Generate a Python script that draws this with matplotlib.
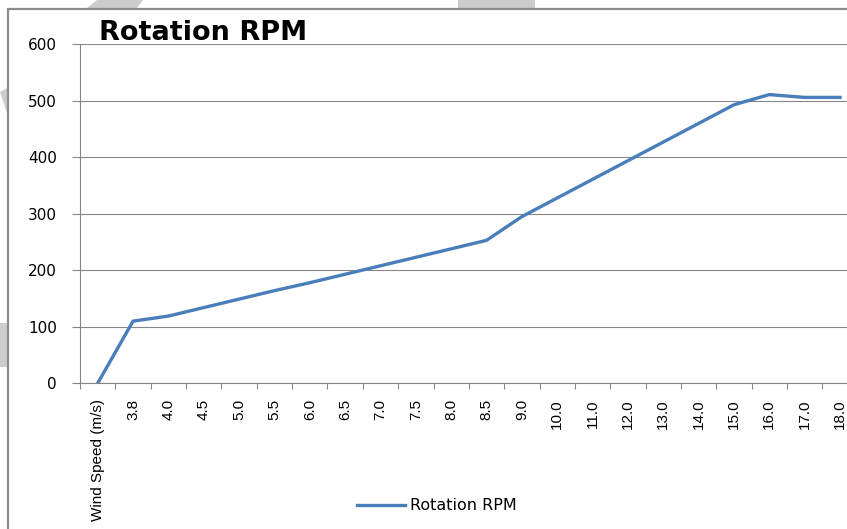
import matplotlib
matplotlib.use("Agg")
import matplotlib.pyplot as plt
import numpy as np
from matplotlib.patches import Polygon, Rectangle

# Chart data
categories = ["Wind Speed (m/s)", "3.8", "4.0", "4.5", "5.0", "5.5", "6.0", "6.5",
              "7.0", "7.5", "8.0", "8.5", "9.0", "10.0", "11.0", "12.0", "13.0",
              "14.0", "15.0", "16.0", "17.0", "18.0"]
rpm = [0, 110, 119, 134, 149, 164, 178, 193, 208, 223, 238, 253, 295,
       328, 361, 394, 427, 460, 493, 511, 506, 506]
series_name = "Rotation RPM"
y_ticks = [0, 100, 200, 300, 400, 500, 600]

W, H = 847, 529
fig = plt.figure(figsize=(W / 100, H / 100), dpi=100)
fig.patch.set_facecolor("white")

def px(x, y):
    """pixel (from top-left) -> figure fraction"""
    return (x / W, 1 - y / H)

# faint watermark bits peeking out around the chart frame
wm = "#cccccc"
for pts in [
    [(97, 0), (143, 0), (137, 8), (87, 8)],
    [(458, 0), (535, 0), (535, 8), (458, 8)],
    [(0, 92), (7, 88), (7, 113)],
    [(0, 323), (7, 323), (7, 367), (0, 367)],
]:
    fig.patches.append(Polygon([px(*p) for p in pts], closed=True, facecolor=wm,
                               edgecolor="none", transform=fig.transFigure, zorder=0))

# chart frame (runs off the right and bottom)
fig.patches.append(Rectangle(px(8, 600), 900 / W, (600 - 9) / H, fill=False,
                             edgecolor="#8c8c8c", linewidth=1.6,
                             transform=fig.transFigure, zorder=1))

# plot area, extends a bit past the right edge like the source
left, right, top, bottom = 80, 857.7, 44.3, 383.3
ax = fig.add_axes([left / W, 1 - bottom / H, (right - left) / W, (bottom - top) / H])
ax.set_facecolor("none")

x = np.arange(len(categories))
ax.plot(x, rpm, color="#4a7ebb", linewidth=2.4, solid_joinstyle="round",
        label=series_name, zorder=3)

ax.set_xlim(-0.5, len(categories) - 0.5)
ax.set_ylim(0, 600)

grid_c = "#868686"
ax.set_yticks(y_ticks)
ax.set_yticklabels([str(v) for v in y_ticks], fontsize=11, family="DejaVu Sans")
ax.yaxis.grid(True, color=grid_c, linewidth=0.8)
ax.tick_params(axis="y", direction="out", length=5.5, width=0.8, color=grid_c, pad=11)

ax.set_xticks(x)
ax.set_xticklabels(categories, rotation=90, fontsize=11, family="Liberation Sans",
                   ha="center", va="top")
ax.set_xticks(np.arange(len(categories) + 1) - 0.5, minor=True)
ax.tick_params(axis="x", which="major", length=0, pad=11.5)
ax.tick_params(axis="x", which="minor", direction="out", length=4.5, width=0.8, color=grid_c)

for s in ["top", "right"]:
    ax.spines[s].set_visible(False)
for s in ["left", "bottom"]:
    ax.spines[s].set_color(grid_c)
    ax.spines[s].set_linewidth(0.8)

fig.text(99 / W, 1 - 39.5 / H, "Rotation RPM", fontsize=19.5, fontweight="bold",
         family="DejaVu Sans", ha="left", va="baseline")

leg = fig.legend(loc="center", bbox_to_anchor=px(437, 506), frameon=False,
                 prop={"family": "DejaVu Sans", "size": 11.5},
                 handlelength=3.0, handletextpad=0.3)

fig.savefig("out.png", dpi=100)
